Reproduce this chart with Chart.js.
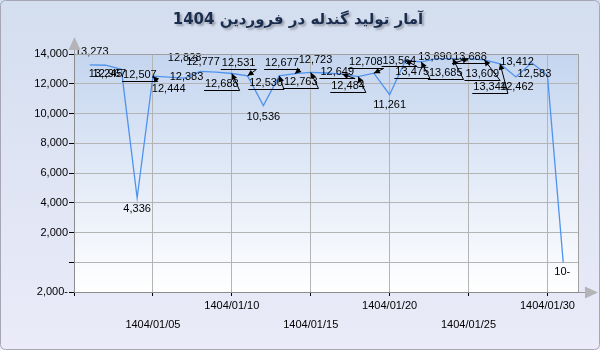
<!DOCTYPE html>
<html>
<head>
<meta charset="utf-8">
<script src="https://cdn.jsdelivr.net/npm/chart.js@4/dist/chart.umd.min.js"></script>
<style>
html,body{margin:0;padding:0;background:#fff;}
#wrap{width:600px;height:350px;position:relative;}
</style>
</head>
<body>
<div id="wrap"><canvas id="c" width="600" height="350"></canvas></div>
<script>
// ---- data ----
const chartTitle = 'آمار تولید گندله در فروردین 1404';
const days = [1,2,3,4,5,6,7,8,9,10,11,12,13,14,15,16,17,18,19,20,21,22,23,24,25,26,27,28,29,30,31];
const production = [13273,13245,12967,4336,12507,12444,12383,12828,12777,12688,12531,10536,12530,12677,12763,12723,12649,12484,12708,11261,13564,13475,13690,13685,13688,13609,13344,12462,13412,12583,-10];
const xTickDays = [0,5,10,15,20,25,30];
const xTickLabels = ['','1404/01/05','1404/01/10','1404/01/15','1404/01/20','1404/01/25','1404/01/30'];
const yTickValues = [-2000,0,2000,4000,6000,8000,10000,12000,14000];

// ---- label layout (pixel offsets of each value label from its point) ----
const labelOffsets = [[2,-13],[0,8.5],[-12,4.5],[0,11],[-13,-1.5],[0,11.6],[2,-1],[-15.6,-13.7],[-13,-10.5],[-10,10],[-9,-13],[0,11],[-13,7],[-13,-11],[-10,10],[-11,-13],[-5,-2],[-10,9],[-8,-11.6],[0,10],[-6,0],[-9,10],[-2,-2],[-7,14],[1.5,-2],[-2,14],[-10,23],[1,10],[-14.5,-1],[-13,-1],[-1,10]];
const callouts = [0,0,0,0,1,0,0,0,0,1,1,0,1,1,1,0,1,1,1,0,1,1,0,1,1,1,1,0,0,0,0];

function fmt(v){
  const s = Math.abs(v).toLocaleString('en-US');
  return v < 0 ? s + '-' : s;
}

const FONT = '"Liberation Sans", Arial, sans-serif';

const decor = {
  id: 'decor',
  beforeDraw(chart){
    const {ctx, chartArea:a, width, height} = chart;
    ctx.save();
    let g = ctx.createLinearGradient(0,0,0,height);
    g.addColorStop(0,'#d3deef');
    g.addColorStop(1,'#ebebf9');
    ctx.fillStyle = g;
    ctx.fillRect(0,0,width,height);
    g = ctx.createLinearGradient(0,a.top,0,a.bottom);
    g.addColorStop(0,'#c4d5ef');
    g.addColorStop(1,'#ffffff');
    ctx.fillStyle = g;
    ctx.fillRect(a.left,a.top,a.right-a.left,a.bottom-a.top);
    ctx.restore();
  },
  afterDraw(chart){
    const {ctx, chartArea:a, width, height} = chart;
    ctx.save();
    // plot border (top/right)
    ctx.strokeStyle = '#a0a0a0';
    ctx.lineWidth = 1;
    ctx.beginPath();
    ctx.moveTo(Math.round(a.left)+0.5, Math.round(a.top)+0.5);
    ctx.lineTo(Math.round(a.right)-0.5, Math.round(a.top)+0.5);
    ctx.lineTo(Math.round(a.right)-0.5, Math.round(a.bottom));
    ctx.stroke();
    // axis arrows
    ctx.fillStyle = '#b4b4b8';
    ctx.strokeStyle = '#9a9a9a';
    const ax = Math.round(a.left)+0.5;
    ctx.beginPath(); ctx.moveTo(ax, a.top); ctx.lineTo(ax, a.top-4); ctx.stroke();
    ctx.beginPath(); ctx.moveTo(ax, a.top-17); ctx.lineTo(ax-6, a.top-4); ctx.lineTo(ax+6, a.top-4); ctx.closePath(); ctx.fill();
    const ay = Math.round(a.bottom)+0.5;
    ctx.beginPath(); ctx.moveTo(a.right, ay); ctx.lineTo(a.right+6, ay); ctx.stroke();
    ctx.beginPath(); ctx.moveTo(a.right+19, ay); ctx.lineTo(a.right+6, ay-6); ctx.lineTo(a.right+6, ay+6); ctx.closePath(); ctx.fill();
    // title with shadow
    ctx.font = 'bold 15px "DejaVu Sans", sans-serif';
    ctx.direction = 'rtl';
    ctx.textAlign = 'center';
    ctx.textBaseline = 'middle';
    ctx.shadowColor = 'rgba(120,120,130,0.6)';
    ctx.shadowOffsetX = 2; ctx.shadowOffsetY = 2; ctx.shadowBlur = 2;
    ctx.fillStyle = '#1b2d4f';
    ctx.fillText(chartTitle, 298, 20);
    ctx.shadowColor = 'transparent';
    // outer border
    ctx.strokeStyle = '#a6a6b4';
    ctx.beginPath();
    if (ctx.roundRect) ctx.roundRect(0.5,0.5,width-1,height-1,5); else ctx.rect(0.5,0.5,width-1,height-1);
    ctx.stroke();
    ctx.restore();
  }
};

const valueLabels = {
  id: 'valueLabels',
  afterDatasetsDraw(chart){
    const ctx = chart.ctx;
    const meta = chart.getDatasetMeta(0);
    ctx.save();
    ctx.font = '11px ' + FONT;
    ctx.textAlign = 'center';
    ctx.textBaseline = 'middle';
    meta.data.forEach((pt, i) => {
      const [dx, dy] = labelOffsets[i];
      const lx = pt.x + dx, ly = pt.y + dy;
      const text = fmt(production[i]);
      if (callouts[i]) {
        const w = ctx.measureText(text).width;
        const uy = Math.round(ly + 6) + 0.5;
        const l = lx - w/2 - 1, r = lx + w/2 + 1;
        const ex = (Math.abs(pt.x - l) < Math.abs(pt.x - r)) ? l : r;
        ctx.strokeStyle = '#000';
        ctx.lineWidth = 1;
        ctx.beginPath();
        ctx.moveTo(l, uy); ctx.lineTo(r, uy);
        ctx.moveTo(ex, uy); ctx.lineTo(pt.x, pt.y);
        ctx.stroke();
        const ang = Math.atan2(pt.y - uy, pt.x - ex);
        const len = 6, hw = 3;
        ctx.fillStyle = '#000';
        ctx.beginPath();
        ctx.moveTo(pt.x, pt.y);
        ctx.lineTo(pt.x - len*Math.cos(ang) + hw*Math.sin(ang), pt.y - len*Math.sin(ang) - hw*Math.cos(ang));
        ctx.lineTo(pt.x - len*Math.cos(ang) - hw*Math.sin(ang), pt.y - len*Math.sin(ang) + hw*Math.cos(ang));
        ctx.closePath();
        ctx.fill();
      }
      ctx.fillStyle = '#000';
      ctx.fillText(text, lx, ly);
    });
    ctx.restore();
  }
};

new Chart(document.getElementById('c'), {
  type: 'line',
  data: {
    datasets: [{
      data: days.map((d, i) => ({x: d, y: production[i]})),
      borderColor: '#4f93ee',
      borderWidth: 1.3,
      pointRadius: 0,
      tension: 0,
      fill: false
    }]
  },
  options: {
    responsive: false,
    animation: false,
    layout: { padding: { top: 54, right: 21, left: 0, bottom: 0 } },
    plugins: { legend: { display: false }, title: { display: false }, tooltip: { enabled: false } },
    scales: {
      x: {
        type: 'linear', min: 0, max: 32,
        afterBuildTicks: s => { s.ticks = xTickDays.map(v => ({value: v})); },
        afterFit: s => { s.height = 58; },
        grid: { color: '#b4b4b4', tickColor: '#000', tickLength: 4 },
        border: { color: '#8c8c8c' },
        ticks: {
          autoSkip: false, maxRotation: 0, padding: 0,
          color: '#000',
          font: { family: FONT, size: 11, lineHeight: '19px' },
          callback: (v) => {
            const i = xTickDays.indexOf(v);
            if (i < 0) return '';
            return (i % 2 === 1) ? ['', xTickLabels[i]] : xTickLabels[i];
          }
        }
      },
      y: {
        min: -2000, max: 14000,
        afterBuildTicks: s => { s.ticks = yTickValues.map(v => ({value: v})); },
        afterFit: s => { s.width = 74; },
        grid: { color: '#b4b4b4', tickColor: '#000', tickLength: 5 },
        border: { color: '#8c8c8c' },
        ticks: {
          padding: 1, color: '#000',
          font: { family: FONT, size: 11 },
          callback: v => v === 0 ? '' : fmt(v)
        }
      }
    }
  },
  plugins: [decor, valueLabels]
});
</script>
</body>
</html>
